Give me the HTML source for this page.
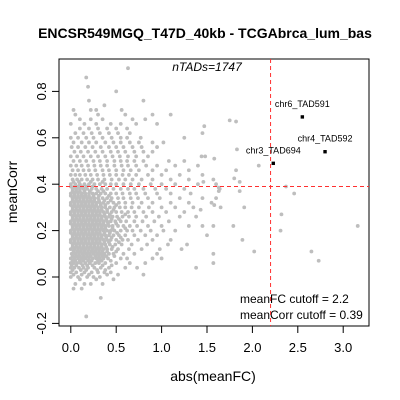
<!DOCTYPE html>
<html><head><meta charset="utf-8"><style>
html,body{margin:0;padding:0;background:#fff;width:400px;height:400px;overflow:hidden}
svg{display:block;font-family:"Liberation Sans",sans-serif}
</style></head><body>
<svg id="chart" width="400" height="400">
<text x="205" y="38" text-anchor="middle" font-size="14" font-weight="bold">ENCSR549MGQ_T47D_40kb - TCGAbrca_lum_bas</text>
<rect x="59" y="59" width="310" height="267" fill="none" stroke="#000" stroke-width="1"/>
<g id="pts"></g>
<g id="axes"></g>
<text x="207" y="71" text-anchor="middle" font-size="12" font-style="italic">nTADs=1747</text>
<text x="240" y="303" font-size="12">meanFC cutoff = 2.2</text>
<text x="240" y="319" font-size="12">meanCorr cutoff = 0.39</text>
<text x="213" y="381" text-anchor="middle" font-size="14">abs(meanFC)</text>
<text transform="translate(17,192) rotate(-90)" text-anchor="middle" font-size="14">meanCorr</text>
</svg>
<script>
const xTicks=[0,0.5,1,1.5,2,2.5,3];
const xTickLabels=["0.0","0.5","1.0","1.5","2.0","2.5","3.0"];
const yTicks=[-0.2,0,0.2,0.4,0.6,0.8];
const yTickLabels=["-0.2","0.0","0.2","0.4","0.6","0.8"];
const fcCutoff=2.2, corrCutoff=0.39;
const rows=[
[-0.17,[.17]],[-0.09,[.33]],[-0.05,[.03,.12]],[-0.03,[.05,.15,.22,.35]],[-0.01,[.10,.28,.47]],
[0.00,[0,.08,.18,.25,.32]],[0.01,[.03,.12,.2,.4,.52,.8]],[0.02,[0,.06,.15,.23,.3,.37,.44]],
[0.03,[.02,.11,.17,.29,.38]],
[0.04,[0,.04,.09,.14,.19,.26,.33,.42,.6,.73,1.38]],[0.05,[.01,.06,.13,.18,.24,.35,.45]],
[0.06,[0,.03,.07,.11,.16,.21,.27,.31,.38,.5,.65,.82]],
[0.07,[.02,.05,.1,.14,.19,.23,.3,.34,.44]],
[0.08,[0,.04,.08,.12,.16,.2,.24,.28,.32,.36,.41,.55,.62,.9,1.0]],
[0.09,[.02,.06,.1,.14,.18,.22,.27,.31,.35,.39,.48]],
[0.10,[.01,.05,.09,.13,.17,.21,.25,.29,.33,.37,.42,.47,.58,.7,.95]],
[0.11,[.03,.07,.11,.15,.19,.23,.27,.31,.35,.4,.5]],
[0.12,[0,.04,.08,.12,.16,.2,.24,.28,.32,.36,.4,.45,.52,.64,.78,.98,1.22]],
[0.13,[.02,.06,.1,.14,.18,.22,.26,.3,.34,.39,.46]],
[0.14,[.02,.06,.1,.14,.18,.22,.26,.3,.34,.38,.43,.49,.56,.67,.84,1.07,1.28]],
[0.15,[0,.04,.08,.12,.16,.2,.24,.28,.32,.37,.42,.53]],
[0.16,[0,.04,.08,.12,.16,.2,.24,.28,.32,.36,.4,.44,.5,.57,.63,.74,.9,1.1]],
[0.17,[.02,.06,.1,.14,.18,.22,.26,.3,.34,.39,.45,.55]],
[0.18,[.02,.06,.1,.14,.18,.22,.26,.3,.34,.38,.42,.47,.53,.6,.7,.82,.95,1.5]],
[0.19,[0,.04,.08,.12,.16,.2,.24,.28,.32,.37,.43,.51]],
[0.20,[0,.04,.08,.12,.16,.2,.24,.28,.32,.36,.4,.44,.48,.55,.62,.68,.77,.88,1.02,1.15]],
[0.21,[.02,.06,.1,.14,.18,.22,.26,.3,.34,.38,.46,.6]],
[0.22,[.02,.06,.1,.14,.18,.22,.26,.3,.34,.38,.42,.46,.52,.58,.65,.73,.85,1.0,1.3,1.45,1.57]],
[0.23,[0,.04,.08,.12,.16,.2,.24,.28,.32,.36,.41,.5]],
[0.24,[0,.04,.08,.12,.16,.2,.24,.28,.32,.36,.4,.44,.49,.55,.61,.7,.79,.92,1.08]],
[0.25,[.02,.06,.1,.14,.18,.22,.26,.3,.34,.39,.45,.53]],
[0.26,[.02,.06,.1,.14,.18,.22,.26,.3,.34,.38,.42,.46,.51,.57,.64,.72,.83,.97,1.2,1.38]],
[0.27,[0,.04,.08,.12,.16,.2,.24,.28,.32,.37,.43,.6]],
[0.28,[0,.04,.08,.12,.16,.2,.24,.28,.32,.36,.4,.45,.5,.56,.63,.7,.8,.9,1.05,1.25]],
[0.29,[.02,.06,.1,.14,.18,.22,.26,.3,.34,.4,.47]],
[0.30,[.02,.06,.1,.14,.18,.22,.26,.3,.34,.38,.43,.48,.54,.6,.67,.75,.86,1.0,1.15,1.35,1.65]],
[0.31,[0,.04,.08,.12,.16,.2,.24,.28,.33,.38,.5]],
[0.32,[0,.04,.08,.12,.16,.2,.24,.28,.32,.36,.41,.47,.53,.6,.68,.78,.9,1.1,1.3,1.55]],
[0.33,[.02,.06,.1,.14,.18,.22,.26,.31,.37,.44]],
[0.34,[.02,.06,.1,.14,.18,.22,.26,.3,.35,.4,.45,.52,.58,.66,.74,.85,.98,1.2,1.45,1.6]],
[0.35,[0,.04,.08,.12,.16,.2,.25,.31,.42]],
[0.36,[0,.04,.08,.12,.16,.2,.24,.28,.33,.38,.44,.5,.57,.65,.72,.82,.95,1.1,1.32]],
[0.37,[.02,.06,.1,.15,.21,.3,.36]],
[0.38,[.02,.06,.1,.14,.18,.23,.28,.34,.4,.47,.55,.63,.7,.8,.93,1.05,1.25,1.64]],
[0.39,[0,.04,.08,.12,.17,.24]],
[0.40,[0,.05,.1,.15,.2,.26,.32,.38,.44,.5,.58,.66,.75,.88,1.0,1.15,1.4,1.6]],
[0.41,[.03,.09,.22,.35]],
[0.42,[.02,.07,.12,.18,.24,.3,.37,.45,.53,.6,.68,.78,.9,1.1,1.3,1.57]],
[0.44,[0,.05,.1,.16,.22,.29,.36,.43,.5,.57,.64,.72,.85,1.0,1.2,1.45]],
[0.46,[.02,.08,.14,.2,.27,.35,.42,.5,.58,.66,.75,.9,1.05,1.3]],
[0.48,[0,.06,.12,.19,.26,.33,.4,.48,.56,.63,.72,.83,.95,1.15,1.4]],
[0.50,[.03,.1,.17,.25,.32,.4,.48,.55,.62,.7,.8,1.08,1.25]],
[0.52,[0,.07,.14,.22,.3,.38,.46,.54,.63,.72,.85,1.48]],
[0.54,[.04,.11,.19,.27,.35,.44,.52,.6,.7,.8,.9]],
[0.56,[.01,.08,.16,.24,.33,.42,.5,.58,.68,.78,.95]],
[0.58,[.03,.12,.2,.28,.38,.47,.55,.65,.75,.9,1.02]],
[0.60,[0,.08,.17,.25,.35,.45,.55,.62,.77,1.25]],
[0.62,[.05,.14,.23,.32,.42,.52,.65,1.45]],
[0.64,[.1,.2,.3,.4,.5,.62]],
[0.66,[0,.15,.28,.44,.55,.72,.95]],
[0.68,[.1,.22,.35,.68,.82]],
[0.70,[.05,.3,.6,.9,1.1]],
[0.72,[.03,.22,.28,.56]],
[0.74,[.37]],[0.76,[.2,.8]],[0.80,[.5]],[0.82,[.19]],[0.86,[.17]],[0.90,[.63]]
];
const outX=[1.47,1.75,1.82,1.44,1.58,1.83,2.07,1.82,1.46,1.80,1.86,1.63,1.63,1.86,2.37,2.46,1.58,1.43,1.91,2.32,1.79,2.31,3.16,1.89,2.02,1.57,2.65,2.73,1.57];
const outY=[0.65,0.675,0.67,0.52,0.51,0.55,0.48,0.46,0.41,0.425,0.41,0.385,0.37,0.37,0.39,0.36,0.31,0.29,0.30,0.27,0.22,0.20,0.22,0.16,0.11,0.10,0.11,0.07,0.06];
const hiNames=["chr6_TAD591","chr4_TAD592","chr3_TAD694"];
const hiX=[2.55,2.80,2.23];
const hiY=[0.69,0.54,0.49];

const NS="http://www.w3.org/2000/svg";
const X=v=>70.8+v*90.8, Y=v=>277-v*232;
const svg=document.getElementById('chart'), pg=document.getElementById('pts'), ax=document.getElementById('axes');
function mk(t,a,p){const e=document.createElementNS(NS,t);for(const k in a)e.setAttribute(k,a[k]);(p||svg).appendChild(e);return e;}
function pt(x,y,c){return mk('circle',{cx:X(x),cy:Y(y),r:1.9,fill:c},pg);}
rows.forEach(r=>r[1].forEach(x=>{const e=pt(x,r[0],'#bebebe');

}));
outX.forEach((x,i)=>{const e=pt(x,outY[i],'#bebebe');

});
let l=mk('line',{x1:X(fcCutoff),x2:X(fcCutoff),y1:59,y2:326,stroke:'#ff3030','stroke-dasharray':'4,3'});


l=mk('line',{x1:59,x2:369,y1:Y(corrCutoff),y2:Y(corrCutoff),stroke:'#ff3030','stroke-dasharray':'4,3'});


hiX.forEach((x,i)=>{const e=mk('rect',{x:X(x)-1.7,y:Y(hiY[i])-1.7,width:3.4,height:3.4,fill:'#000'});


const t=mk('text',{x:X(x),y:Y(hiY[i])-10,'text-anchor':'middle','font-size':'9'});t.textContent=hiNames[i];

});
mk('line',{x1:X(0),x2:X(3),y1:326,y2:326,stroke:'#000'},ax);
xTicks.forEach((v,i)=>{mk('line',{x1:X(v),x2:X(v),y1:326,y2:333,stroke:'#000'},ax);
const t=mk('text',{x:X(v),y:352,'text-anchor':'middle','font-size':'13'},ax);t.textContent=xTickLabels[i];

});
mk('line',{x1:59,x2:59,y1:Y(-0.2),y2:Y(0.8),stroke:'#000'},ax);
yTicks.forEach((v,i)=>{mk('line',{x1:52,x2:59,y1:Y(v),y2:Y(v),stroke:'#000'},ax);
const t=mk('text',{transform:`translate(46,${Y(v)}) rotate(-90)`,'text-anchor':'middle','font-size':'13'},ax);t.textContent=yTickLabels[i];

});
</script>
</body></html>
